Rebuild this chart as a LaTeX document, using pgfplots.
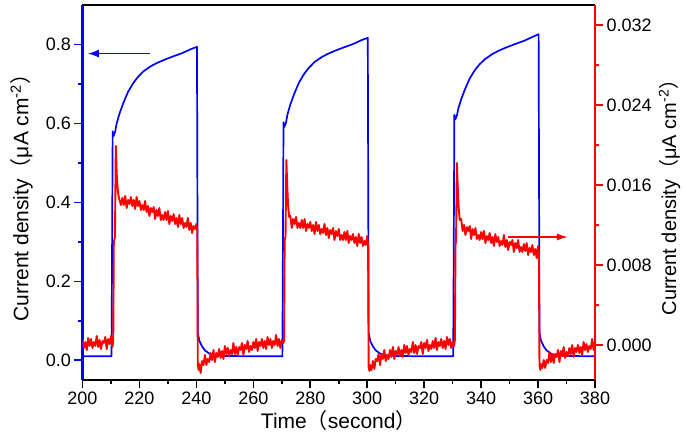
\documentclass[border=0pt]{standalone}
\usepackage{pgfplots}
\pgfplotsset{compat=1.18}
\usepackage{fontspec}
\setmainfont{Liberation Sans}
\newfontfamily\cjk{Noto Sans CJK SC}
\usetikzlibrary{arrows.meta}
\begin{document}
\begin{tikzpicture}
\pgfplotsset{
  every axis/.append style={font=\fontsize{18bp}{21bp}\selectfont},
  /pgf/number format/assume math mode=true,
}
\begin{axis}[
  scale only axis, width=512.5bp, height=375bp,
  at={(0,0)}, anchor=south west,
  xmin=200, xmax=380, ymin=-0.05, ymax=0.9,
  axis x line*=box, axis y line*=left,
  xtick pos=bottom,
  xtick={200,220,240,260,280,300,320,340,360,380},
  minor xtick={210,230,250,270,290,310,330,350,370},
  ytick={0,0.2,0.4,0.6,0.8}, minor ytick={0.1,0.3,0.5,0.7},
  yticklabel style={/pgf/number format/.cd, fixed, fixed zerofill, precision=1},
  xticklabel style={/pgf/number format/.cd, fixed, precision=0, set thousands separator={}},
  tick align=outside,
  major tick length=8bp, minor tick length=4bp,
  x axis line style={black, line width=2bp},
  y axis line style={blue, line width=2.5bp},
  xtick style={black, line width=1.6bp},
  ytick style={blue, line width=1.6bp},
  xlabel={Time{\cjk （}second{\cjk ）}},
  xlabel style={font=\fontsize{21bp}{24bp}\selectfont, at={(axis description cs:0.5,0)}, anchor=base, yshift=-48bp},
  ylabel={Current density{\cjk （}μA cm\textsuperscript{-2}{\cjk ）}},
  ylabel style={font=\fontsize{21bp}{24bp}\selectfont, at={(axis description cs:-0.119,0.5)}, anchor=center},
  clip=true,
]
\addplot[blue, line width=1.7bp, line join=round] coordinates {
(200,0.01)(210.2,0.01)(210.4,0.30)(210.6,0.58)(210.9,0.568)(211.5,0.58)(212,0.60)(213,0.625)(214.3,0.651)(216,0.68)(217.8,0.702)(219.5,0.718)(221.4,0.732)(224,0.745)(226.1,0.753)(229,0.762)(231.9,0.770)(235,0.778)(238,0.788)(240.2,0.794)(240.5,0.07)(241,0.05)(242,0.035)(243,0.025)(244.5,0.017)(246,0.013)(250,0.011)(260,0.01)
(270.2,0.01)(270.4,0.30)(270.6,0.603)(270.9,0.591)(271.5,0.603)(272,0.623)(273,0.648)(274.3,0.674)(276,0.703)(277.8,0.725)(279.5,0.741)(281.4,0.755)(284,0.768)(286.1,0.776)(289,0.785)(291.9,0.793)(295,0.801)(298,0.811)(300.2,0.817)(300.5,0.07)(301,0.05)(302,0.035)(303,0.025)(304.5,0.017)(306,0.013)(310,0.011)(320,0.01)
(330.2,0.01)(330.4,0.30)(330.6,0.622)(330.9,0.610)(331.5,0.620)(332,0.638)(333,0.661)(334.3,0.686)(336,0.714)(337.8,0.735)(339.5,0.750)(341.4,0.763)(344,0.776)(346.1,0.784)(349,0.793)(351.9,0.801)(355,0.809)(358,0.819)(360.2,0.826)(360.5,0.07)(361,0.05)(362,0.035)(363,0.025)(364.5,0.017)(366,0.013)(370,0.011)(380,0.01)
};
\draw[blue, line width=1.6bp, -{Latex[length=11bp,width=8bp]}] (axis cs:223.7,0.777) -- (axis cs:201.9,0.777);
\end{axis}
\begin{axis}[
  scale only axis, width=512.5bp, height=375bp,
  at={(0,0)}, anchor=south west,
  xmin=200, xmax=380, ymin=-35, ymax=340,
  axis x line=none, axis y line*=right,
  ytick={0,80,160,240,320},
  yticklabels={0.000,0.008,0.016,0.024,0.032},
  minor ytick={40,120,200,280},
  tick align=outside,
  major tick length=8bp, minor tick length=4bp,
  y axis line style={red, line width=2.5bp},
  ytick style={red, line width=1.6bp},
  ylabel={Current density{\cjk （}μA cm\textsuperscript{-2}{\cjk ）}},
  ylabel style={font=\fontsize{20bp}{23bp}\selectfont, at={(axis description cs:1.1454,0.5)}, anchor=center},
  clip=true,
]
\addplot[red, line width=1.9bp, line join=round] coordinates {
(200,6)(200.5,-3)(201,3)(201.5,-5)(202,7)(202.5,-1)(203,6)(203.5,-3)(204,3)(204.5,-1)(205,9)(205.5,-2)(206,5)(206.5,-4)(207,4)(207.5,2)(208,8)(208.5,-4)(209,6)(209.5,1)(210,9)(210.5,-2)(210.8,4)(211,103)(211.4,108)(211.7,199)(212,172)(212.3,158)(212.6,150)
(213,145)(213.5,140)(214,147)(214.5,140)(215,149)(215.5,137)(216,145)(216.5,141)(217,148)(217.5,139)(218,145)(218.5,136)(219,148)(219.5,139)(220,144)(220.5,135)(221,140)(221.5,135)(222,144)(222.5,133)(223,139)(223.5,129)(224,137)(224.5,133)(225,138)(225.5,126)(226,135)(226.5,129)(227,137)(227.5,125)(228,130)(228.5,125)(229,133)(229.5,125)(230,134)(230.5,121)(231,129)(231.5,124)(232,131)(232.5,121)(233,127)(233.5,118)(234,130)(234.5,121)(235,127)(235.5,117)(236,122)(236.5,118)(237,127)(237.5,115)(238,122)(238.5,112)(239,119)(239.5,116)(240,121)(240.3,114)(240.5,-20)(240.8,-25)(241,-19)
(241.5,-28)(242,-16)(242.5,-20)(243,-10)(243.5,-20)(244,-14)(244.5,-17)(245,-8)(245.5,-15)(246,-5)(246.5,-17)(247,-8)(247.5,-12)(248,-4)(248.5,-13)(249,-6)(249.5,-14)(250,-1)(250.5,-9)(251,-3)(251.5,-11)(252,-5)(252.5,-9)(253,2)(253.5,-9)(254,-2)(254.5,-10)(255,-2)(255.5,-5)(256,2)(256.5,-10)(257,0)(257.5,-4)(258,4)(258.5,-7)(259,-1)(259.5,-5)(260,3)(260.5,-3)(261,6)(261.5,-6)(262,3)(262.5,-1)(263,6)(263.5,-3)(264,4)(264.5,-4)(265,8)(265.5,0)(266,6)(266.5,-3)(267,4)(267.5,0)(268,10)(268.5,-1)(269,6)(269.5,-3)(270,5)(270.5,2)(270.8,4)(271,105)(271.3,108)(271.6,185)(271.9,160)(272.2,140)(272.6,128)
(273,129)(273.5,117)(274,126)(274.5,121)(275,128)(275.5,117)(276,122)(276.5,117)(277,125)(277.5,117)(278,126)(278.5,114)(279,121)(279.5,117)(280,123)(280.5,114)(281,120)(281.5,111)(282,123)(282.5,114)(283,120)(283.5,111)(284,116)(284.5,112)(285,121)(285.5,110)(286,117)(286.5,107)(287,115)(287.5,111)(288,117)(288.5,105)(289,114)(289.5,109)(290,116)(290.5,105)(291,110)(291.5,105)(292,113)(292.5,105)(293,114)(293.5,102)(294,109)(294.5,105)(295,111)(295.5,102)(296,108)(296.5,99)(297,111)(297.5,102)(298,108)(298.5,99)(299,104)(299.5,100)(300,109)(300.3,100)(300.5,-22)(300.8,-26)(301,-20)
(301.5,-25)(302,-16)(302.5,-24)(303,-14)(303.5,-16)(304,-9)(304.5,-20)(305,-9)(305.5,-14)(306,-5)(306.5,-16)(307,-10)(307.5,-14)(308,-5)(308.5,-12)(309,-2)(309.5,-14)(310,-6)(310.5,-10)(311,-2)(311.5,-11)(312,-5)(312.5,-12)(313,0)(313.5,-8)(314,-1)(314.5,-10)(315,-4)(315.5,-7)(316,3)(316.5,-8)(317,0)(317.5,-9)(318,-1)(318.5,-3)(319,3)(319.5,-9)(320,2)(320.5,-3)(321,5)(321.5,-6)(322,0)(322.5,-4)(323,4)(323.5,-3)(324,7)(324.5,-5)(325,3)(325.5,-1)(326,6)(326.5,-3)(327,4)(327.5,-4)(328,8)(328.5,0)(329,6)(329.5,-3)(330,3)(330.5,-1)(330.8,5)(331,100)(331.2,104)(331.5,182)(331.8,158)(332.1,138)(332.5,125)
(333,126)(333.5,114)(334,120)(334.5,110)(335,118)(335.5,114)(336,119)(336.5,106)(337,116)(337.5,110)(338,117)(338.5,106)(339,110)(339.5,105)(340,113)(340.5,106)(341,114)(341.5,102)(342,109)(342.5,105)(343,112)(343.5,102)(344,108)(344.5,99)(345,111)(345.5,103)(346,108)(346.5,99)(347,104)(347.5,100)(348,110)(348.5,98)(349,105)(349.5,95)(350,103)(350.5,100)(351,105)(351.5,93)(352,102)(352.5,97)(353,105)(353.5,93)(354,98)(354.5,93)(355,101)(355.5,94)(356,102)(356.5,90)(357,97)(357.5,93)(358,100)(358.5,90)(359,96)(359.5,87)(360,99)(360.3,92)(360.5,-20)(360.8,-25)(361,-19)
(361.5,-23)(362,-15)(362.5,-23)(363,-15)(363.5,-18)(364,-7)(364.5,-17)(365,-9)(365.5,-18)(366,-9)(366.5,-12)(367,-5)(367.5,-17)(368,-6)(368.5,-11)(369,-2)(369.5,-13)(370,-7)(370.5,-11)(371,-3)(371.5,-9)(372,0)(372.5,-12)(373,-3)(373.5,-7)(374,0)(374.5,-8)(375,-2)(375.5,-10)(376,3)(376.5,-5)(377,1)(377.5,-7)(378,-1)(378.5,-4)(379,6)(379.5,-5)(380,3)
};
\draw[red, line width=1.6bp, -{Latex[length=11bp,width=7bp]}] (axis cs:349.5,108) -- (axis cs:370.5,108);
\end{axis}
\pgfresetboundingbox
\path[use as bounding box] (-82.5bp,-57bp) rectangle (602.5bp,380bp);
\end{tikzpicture}
\end{document}
